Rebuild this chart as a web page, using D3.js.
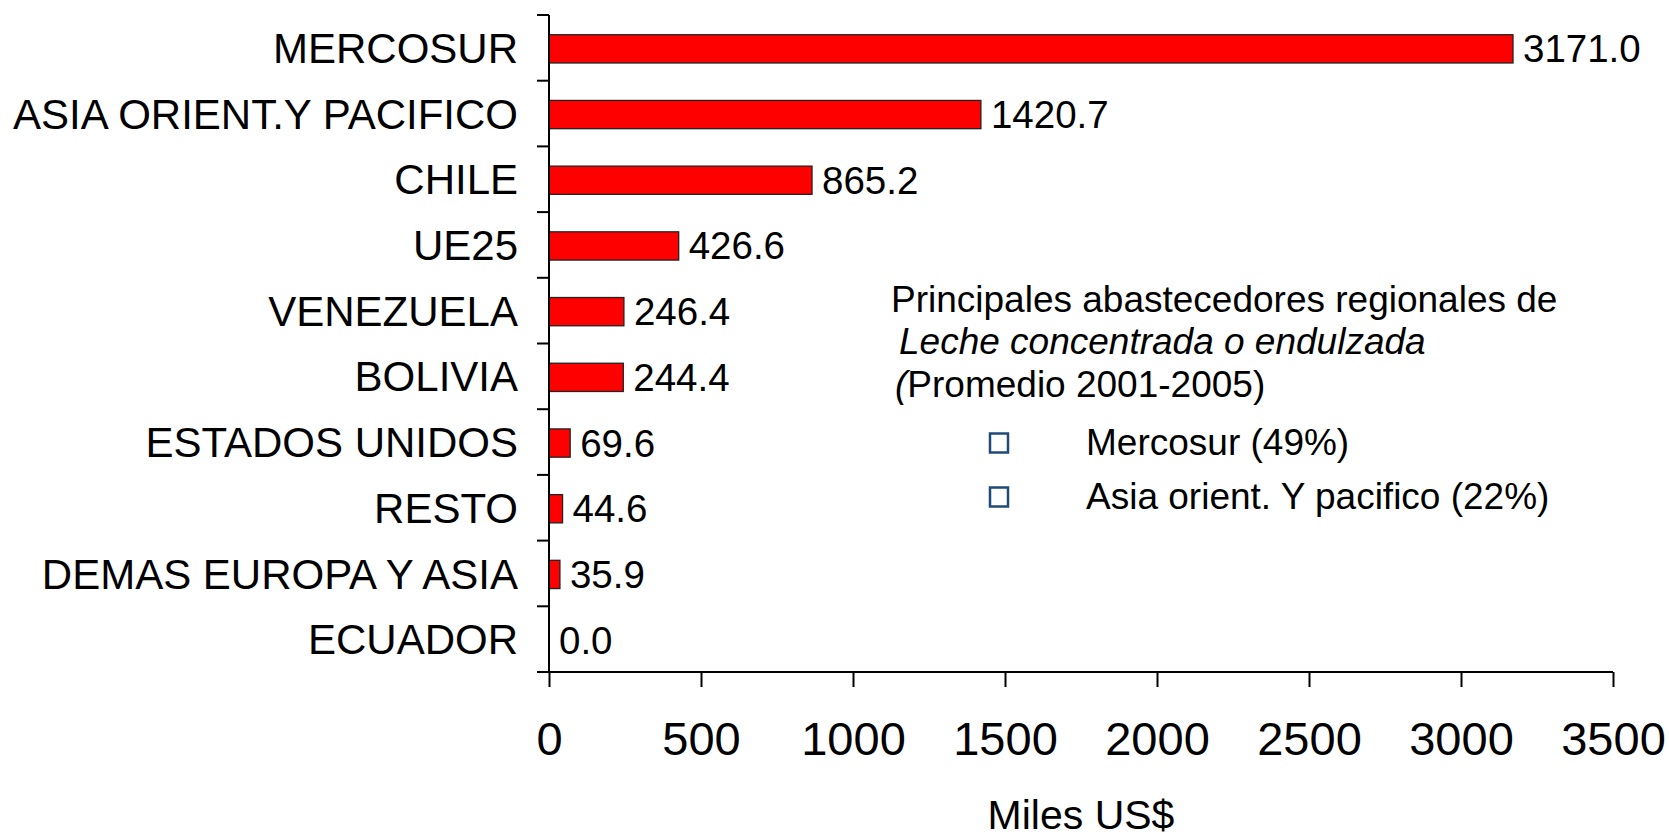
<!DOCTYPE html>
<html>
<head>
<meta charset="utf-8">
<script src="https://cdn.jsdelivr.net/npm/d3@7"></script>
<style>
  html, body { margin: 0; padding: 0; background: #ffffff; }
  svg { display: block; font-family: "Liberation Sans", Arial, sans-serif; }
</style>
</head>
<body>
<svg id="chart" width="1669" height="838"></svg>
<script>
// Regional suppliers, average 2001-2005 (thousands of US$)
const categories = [
  "MERCOSUR", "ASIA ORIENT.Y PACIFICO", "CHILE", "UE25", "VENEZUELA",
  "BOLIVIA", "ESTADOS UNIDOS", "RESTO", "DEMAS EUROPA Y ASIA", "ECUADOR"
];
const values = [3171.0, 1420.7, 865.2, 426.6, 246.4, 244.4, 69.6, 44.6, 35.9, 0.0];
const xTicks = [0, 500, 1000, 1500, 2000, 2500, 3000, 3500];
const titleLines = ["Principales abastecedores regionales de", "Leche concentrada o endulzada", "Promedio 2001-2005)"];
const legendItems = ["Mercosur (49%)", "Asia orient. Y pacifico (22%)"];
const axisTitle = "Miles US$";

const svg = d3.select("#chart");

const plot = { left: 549, right: 1613, top: 15, bottom: 672 };

const x = d3.scaleLinear().domain([0, 3500]).range([plot.left, plot.right]);
const y = d3.scaleBand().domain(categories).range([plot.top, plot.bottom])
  .paddingInner(0.57).paddingOuter(0.285);
const yBand = d3.scaleBand().domain(categories).range([plot.top, plot.bottom]);

// Bars
svg.append("g").selectAll("rect")
  .data(values)
  .join("rect")
  .attr("x", x(0))
  .attr("y", (d, i) => y(categories[i]) + 1)
  .attr("width", d => x(d) - x(0))
  .attr("height", y.bandwidth())
  .attr("fill", "#ff0000")
  .attr("stroke", d => d > 0 ? "#222222" : "none")
  .attr("stroke-width", 1.3);

// Value labels
svg.append("g").selectAll("text")
  .data(values)
  .join("text")
  .attr("x", d => x(d) + 10)
  .attr("y", (d, i) => y(categories[i]) + 1 + y.bandwidth() / 2)
  .attr("dy", "0.35em")
  .attr("font-size", 38.5)
  .attr("fill", "#000")
  .text(d => d.toFixed(1));

// Category axis: ticks sit on band boundaries
const yAxisG = svg.append("g");
yAxisG.append("line")
  .attr("x1", plot.left).attr("x2", plot.left)
  .attr("y1", plot.top).attr("y2", plot.bottom)
  .attr("stroke", "#000").attr("stroke-width", 2);
const boundaries = categories.map(c => yBand(c)).concat([plot.bottom]);
yAxisG.selectAll("line.tick")
  .data(boundaries)
  .join("line")
  .attr("class", "tick")
  .attr("x1", plot.left - 12).attr("x2", plot.left)
  .attr("y1", d => d).attr("y2", d => d)
  .attr("stroke", "#000").attr("stroke-width", 2);
yAxisG.selectAll("text")
  .data(categories)
  .join("text")
  .attr("x", 518)
  .attr("y", d => yBand(d) + yBand.bandwidth() / 2)
  .attr("dy", "0.36em")
  .attr("text-anchor", "end")
  .attr("font-size", 42)
  .attr("fill", "#000")
  .text(d => d);

// Value axis
const xAxis = d3.axisBottom(x).tickValues(xTicks).tickSize(15).tickPadding(35).tickFormat(d3.format("d"));
const xAxisG = svg.append("g")
  .attr("transform", `translate(0,${plot.bottom})`)
  .call(xAxis);
xAxisG.select(".domain").attr("stroke", "#000").attr("stroke-width", 2)
  .attr("d", `M${plot.left - 12},0H${plot.right}`);
xAxisG.selectAll(".tick line").attr("stroke", "#000").attr("stroke-width", 2);
xAxisG.selectAll(".tick text")
  .attr("font-size", 47)
  .attr("font-family", "\"Liberation Sans\", Arial, sans-serif")
  .attr("fill", "#000");

svg.append("text")
  .attr("x", 1081).attr("y", 829)
  .attr("text-anchor", "middle")
  .attr("font-size", 41)
  .attr("fill", "#000")
  .text(axisTitle);

// Annotation block
const note = svg.append("g").attr("font-size", 37).attr("fill", "#000");
note.append("text").attr("x", 891).attr("y", 311.5).text(titleLines[0]);
note.append("text").attr("x", 899).attr("y", 354).attr("font-style", "italic").text(titleLines[1]);
const l3 = note.append("text").attr("x", 895).attr("y", 396.5);
l3.append("tspan").attr("font-style", "italic").text("(");
l3.append("tspan").text(titleLines[2]);

const legendRows = [443, 497];
const lg = svg.append("g");
lg.selectAll("rect")
  .data(legendItems)
  .join("rect")
  .attr("x", 990)
  .attr("y", (d, i) => legendRows[i] - 9.5)
  .attr("width", 18).attr("height", 19)
  .attr("fill", "none")
  .attr("stroke", "#1f4a7a")
  .attr("stroke-width", 2.5);
lg.selectAll("text")
  .data(legendItems)
  .join("text")
  .attr("x", 1086)
  .attr("y", (d, i) => legendRows[i] + 12)
  .attr("font-size", 37)
  .attr("fill", "#000")
  .text(d => d);
</script>
</body>
</html>
